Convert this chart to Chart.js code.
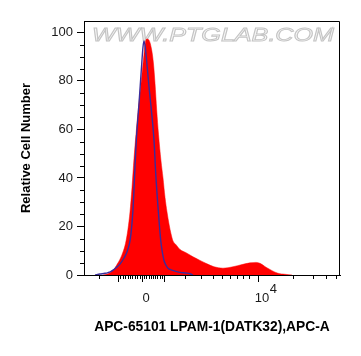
<!DOCTYPE html>
<html><head><meta charset="utf-8">
<script src="https://cdn.jsdelivr.net/npm/chart.js@4.4.1/dist/chart.umd.min.js"></script>
<style>html,body{margin:0;padding:0;background:#fff;}</style>
</head><body>
<canvas id="c" width="361" height="356" style="display:block;width:361px;height:356px"></canvas>
<script>
// x values are display channels of the biexponential APC-A axis
const redX = [19,24,28,31,34,36,39,41.5,44,46,48,50,52,54,56,58,59.5,61,62.7,65,67.7,69.5,71,72.7,74.5,77,79,81,83,85,87,89,92,96,102,109,116,123,130,139,149,158,166,172,176,182,188,194,201,208];
const redY = [0,0.5,1.5,3,5,6.5,9.5,13,19,26,36,48,58,67,75,83,89,95,97.3,96.8,92.7,87,79,68,58,47,40,32,26,21,17,14,12.5,10.5,9.2,7.5,6,4.6,3.4,2.8,3.4,4.3,5,5.2,4.8,3.2,1.8,0.7,0.3,0];
const blueX = [11,16,21,24,26.7,29,32,36,40,43,45.5,47,49,50.7,52.3,55,57.3,59,60,61.5,62.5,65,68.3,70,71.7,74,76.7,78.5,80,82,84,86,91,96,102,106,109];
const blueY = [0,0.4,0.7,1,1.4,2,3,4.5,7,9.5,13,17,27,42,55.6,70.7,84.5,94,96.5,93,89,77.6,64,55.6,42,28,14.4,9,6,4,2.8,2.3,1.6,1.1,0.8,0.5,0];

const yTickValues = [0,20,40,60,80,100];
const yMinorTicks = [5,10,15,25,30,35,45,50,55,65,70,75,85,90,95,100];
const xTickValues = [34,58,80,174];
const xTickLabels = ['', '0', '', '10'];
const xTickSuper = ['', '', '', '4'];
const xMinorTicks = [14.7,36.4,38.8,41.2,43.6,46,48.4,50.8,53.2,55.6,60.2,62.4,64.6,66.8,69,71.2,73.4,75.6,77.8,101,117,129,138,146,153,159,165,209,229,242,252];
const xTitle = 'APC-65101 LPAM-1(DATK32),APC-A';
const yTitle = 'Relative Cell Number';
const watermark = 'WWW.PTGLAB.COM';

const FONT = 'Liberation Sans';

const decor = {
  id: 'decor',
  beforeDatasetsDraw(chart) {
    const {ctx, chartArea: a} = chart;
    ctx.save();
    ctx.font = 'italic 19px "' + FONT + '"';
    const w = ctx.measureText(watermark).width;
    ctx.translate(a.left + 8, a.top + 20);
    ctx.scale(242 / w, 1);
    ctx.fillStyle = '#f7f7f7';
    ctx.strokeStyle = '#c4c4c4';
    ctx.lineWidth = 0.9;
    ctx.fillText(watermark, 0, 0);
    ctx.strokeText(watermark, 0, 0);
    ctx.restore();
  },
  afterDraw(chart) {
    const {ctx, chartArea: a, scales: {x, y}} = chart;
    ctx.save();
    ctx.strokeStyle = '#000';
    ctx.lineWidth = 1;
    ctx.beginPath();
    ctx.moveTo(a.left, a.top + 0.5);
    ctx.lineTo(a.right - 0.5, a.top + 0.5);
    ctx.lineTo(a.right - 0.5, a.bottom);
    yMinorTicks.forEach(v => {
      const p = Math.round(y.getPixelForValue(v)) + 0.5;
      ctx.moveTo(a.left - 4, p); ctx.lineTo(a.left, p);
    });
    xMinorTicks.forEach(v => {
      const p = Math.round(x.getPixelForValue(v)) + 0.5;
      ctx.moveTo(p, a.bottom); ctx.lineTo(p, a.bottom + 4);
    });
    ctx.stroke();
    ctx.font = '13px "' + FONT + '"';
    ctx.fillStyle = '#1a1a1a';
    ctx.textBaseline = 'alphabetic';
    xTickValues.forEach((v, i) => {
      if (!xTickSuper[i]) return;
      const base = xTickLabels[i];
      const bw = ctx.measureText(base).width;
      const px = x.getPixelForValue(v) + 4 + bw / 2 + 0.5;
      ctx.fillText(xTickSuper[i], px, a.bottom + 18);
    });
    ctx.restore();
  }
};

new Chart(document.getElementById('c'), {
  type: 'line',
  data: {
    datasets: [
      {
        label: 'Isotype',
        data: blueX.map((v, i) => ({x: v, y: blueY[i]})),
        borderColor: '#3a2c9c',
        borderWidth: 1.4,
        fill: false,
        pointRadius: 0,
        cubicInterpolationMode: 'monotone',
        order: 0
      },
      {
        label: 'LPAM-1',
        data: redX.map((v, i) => ({x: v, y: redY[i]})),
        borderColor: '#ff0000',
        borderWidth: 0.5,
        backgroundColor: '#ff0000',
        fill: 'origin',
        pointRadius: 0,
        cubicInterpolationMode: 'monotone',
        order: 1
      }
    ]
  },
  options: {
    responsive: false,
    animation: false,
    devicePixelRatio: 1,
    layout: {padding: {left: 0, top: 21, right: 21, bottom: 0}},
    plugins: {legend: {display: false}, tooltip: {enabled: false}},
    scales: {
      x: {
        type: 'linear', min: 0, max: 256,
        afterBuildTicks: s => { s.ticks = xTickValues.map(v => ({value: v})); },
        afterFit: s => { s.height = 81; },
        grid: {drawOnChartArea: false, drawTicks: true, tickLength: 7, tickColor: '#000', tickWidth: 1},
        border: {display: true, color: '#000', width: 1},
        ticks: {
          callback: (v, i) => xTickLabels[i],
          autoSkip: false, maxRotation: 0, labelOffset: 4, padding: 9,
          font: {family: FONT, size: 13}, color: '#1a1a1a'
        },
        title: {display: true, text: xTitle, font: {family: FONT, size: 13.8, weight: 'bold'}, color: '#000', padding: {top: 0, bottom: 21}}
      },
      y: {
        min: 0, max: 104.7,
        afterBuildTicks: s => { s.ticks = yTickValues.map(v => ({value: v})); },
        afterFit: s => { s.width = 84; },
        grid: {drawOnChartArea: false, drawTicks: true, tickLength: 7, tickColor: '#000', tickWidth: 1},
        border: {display: true, color: '#000', width: 1},
        ticks: {font: {family: FONT, size: 13}, color: '#1a1a1a', padding: 4},
        title: {display: true, text: yTitle, font: {family: FONT, size: 13, weight: 'bold'}, color: '#000', padding: {top: 19, bottom: 0}}
      }
    }
  },
  plugins: [decor]
});
</script>
</body></html>
